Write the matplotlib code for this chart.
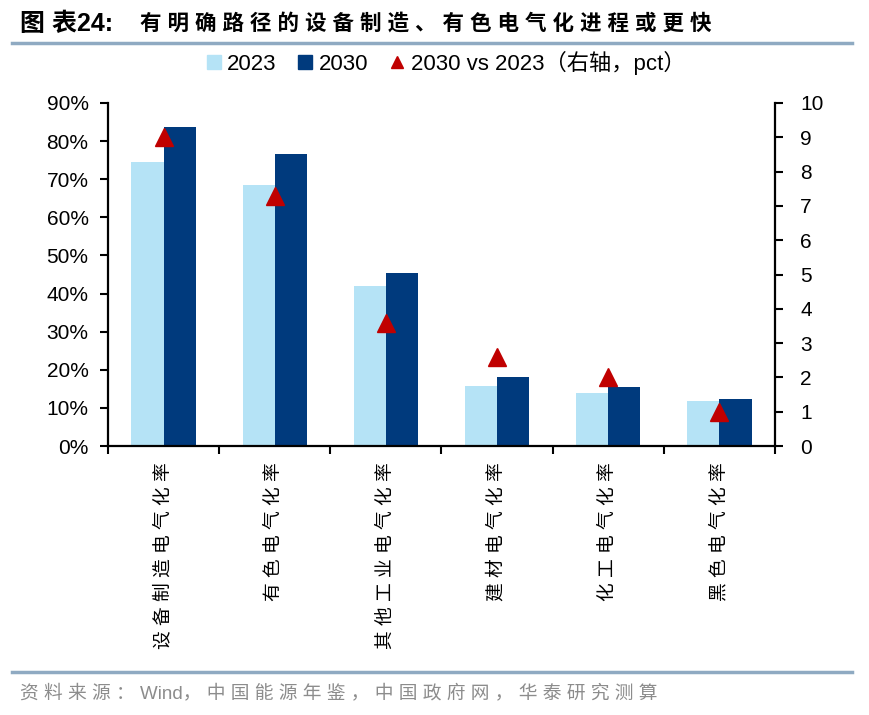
import matplotlib
matplotlib.use("Agg")
import matplotlib.pyplot as plt
import numpy as np
from matplotlib.lines import Line2D

plt.rcParams['font.family'] = ['Liberation Sans', 'Noto Sans CJK SC']
plt.rcParams['axes.unicode_minus'] = False

# data
categories = ['设备制造电气化率', '有色电气化率', '其他工业电气化率',
              '建材电气化率', '化工电气化率', '黑色电气化率']
rate_2023 = [74.6, 68.6, 42.1, 15.7, 13.8, 11.8]   # %
rate_2030 = [83.8, 76.5, 45.3, 18.2, 15.5, 12.3]   # %
delta_pct = [9.0, 7.3, 3.6, 2.6, 2.0, 1.0]         # right axis, pct

light = '#B5E3F6'
dark = '#003A7D'
red = '#C00000'
rule = '#8FAAC2'


def spaced(s):
    # put a space between characters where a CJK glyph is involved
    out = s[0]
    for a, b in zip(s, s[1:]):
        if (ord(a) > 127 or ord(b) > 127) and not (ord(a) < 128 and b == '，'):
            out += ' '
        out += b
    return out


fig = plt.figure(figsize=(8.7, 7.15), dpi=100)
ax = fig.add_axes([108 / 870, 1 - 446 / 715, (775 - 108) / 870, (446 - 103) / 715])

x = np.arange(len(categories))
w = 0.29
ax.bar(x - w / 2, rate_2023, width=w, color=light, zorder=2)
ax.bar(x + w / 2, rate_2030, width=w, color=dark, zorder=2)

ax.set_xlim(-0.5, len(categories) - 0.5)
ax.set_ylim(0, 90)
ax.set_yticks(np.arange(0, 91, 10))
ax.set_yticklabels([f'{v}%' for v in range(0, 91, 10)], fontsize=15)

ax.set_xticks(np.arange(-0.5, len(categories), 1))
ax.set_xticklabels([])
ax.set_xticks(x, [spaced(c) for c in categories], minor=True)
ax.tick_params(axis='x', which='minor', length=0, pad=12)
ax.tick_params(axis='x', which='major', length=6, width=1.5, direction='out')
ax.tick_params(axis='y', length=6, width=1.5, direction='out', pad=8)
for lab in ax.get_xticklabels(minor=True):
    lab.set_rotation(90)
    lab.set_va('top')
    lab.set_ha('center')
    lab.set_fontsize(13.5)

for s in ['top', 'right']:
    ax.spines[s].set_visible(False)
for s in ['left', 'bottom']:
    ax.spines[s].set_linewidth(1.6)

ax2 = ax.twinx()
ax2.plot(x, delta_pct, linestyle='none', marker='^', ms=13, color=red, zorder=5)
ax2.set_ylim(0, 10)
ax2.set_yticks(np.arange(0, 11, 1))
ax2.tick_params(axis='y', length=6, width=1.5, direction='out', labelsize=15, pad=12)
for s in ['top', 'left', 'bottom']:
    ax2.spines[s].set_visible(False)
ax2.spines['right'].set_linewidth(1.6)

# title, rules, legend, source
fig.text(20 / 870, 1 - 24 / 715, '图 表24:', fontsize=18, fontweight='bold',
         va='center', ha='left')
fig.text(140 / 870, 1 - 24 / 715, spaced('有明确路径的设备制造、有色电气化进程或更快'),
         fontsize=15.5, fontweight='bold', va='center', ha='left')
fig.add_artist(Line2D([12 / 870, 852 / 870], [1 - 43 / 715] * 2, color=rule, lw=2.5))
fig.add_artist(Line2D([12 / 870, 852 / 870], [1 - 672 / 715] * 2, color=rule, lw=2.5))
fig.text(20 / 870, 1 - 693 / 715, spaced('资料来源：Wind，中国能源年鉴，中国政府网，华泰研究测算'),
         fontsize=13.5, color='#8C8C8C', va='center', ha='left')

handles = [
    Line2D([], [], linestyle='none', marker='s', ms=10, color=light),
    Line2D([], [], linestyle='none', marker='s', ms=10, color=dark),
    Line2D([], [], linestyle='none', marker='^', ms=8, color=red),
]
fig.legend(handles, ['2023', '2030', '2030 vs 2023（右轴，pct）'], ncol=3,
           loc='center', bbox_to_anchor=(445 / 870, 1 - 63 / 715), frameon=False,
           fontsize=16, handlelength=0.8, handletextpad=0.2, columnspacing=0.9)

fig.savefig('out.png', dpi=100)
